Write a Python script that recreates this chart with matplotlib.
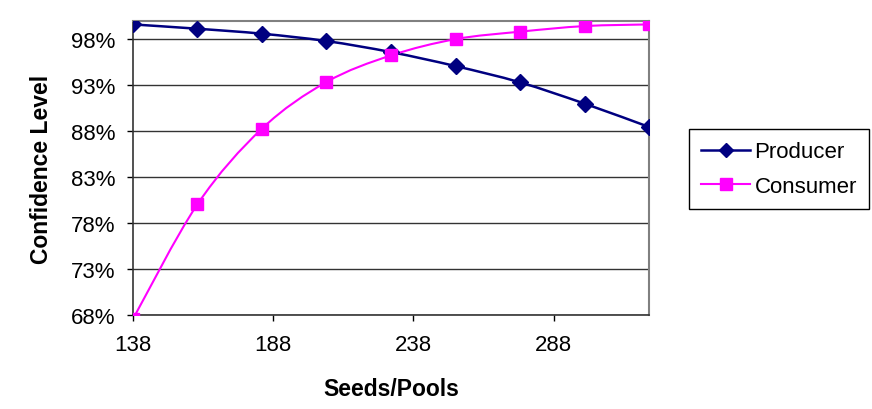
import matplotlib
matplotlib.use("Agg")
import matplotlib.pyplot as plt
from matplotlib.path import Path
from matplotlib.patches import PathPatch
from matplotlib.lines import Line2D
from matplotlib.ticker import FuncFormatter
import numpy as np

plt.rcParams['font.family'] = ['Liberation Sans', 'DejaVu Sans']

seeds = [138, 161, 184, 207, 230, 253, 276, 299, 322]
producer = [99.63, 99.16, 98.62, 97.82, 96.62, 95.10, 93.33, 91.02, 88.48]
consumer = [67.6, 80.08, 88.30, 93.37, 96.26, 98.03, 98.84, 99.45, 99.63]
xticks = [138, 188, 238, 288]
yticks = [68, 73, 78, 83, 88, 93, 98]


def smooth_path(x, y):
    # excel-style smoothed line: bezier segments through the points
    p = np.column_stack([x, y]).astype(float)
    verts = [p[0]]
    codes = [Path.MOVETO]
    n = len(p)
    for i in range(n - 1):
        p0 = p[i - 1] if i > 0 else p[i]
        p3 = p[i + 2] if i + 2 < n else p[i + 1]
        c1 = p[i] + (p[i + 1] - p0) / 6.0
        c2 = p[i + 1] - (p3 - p[i]) / 6.0
        verts += [c1, c2, p[i + 1]]
        codes += [Path.CURVE4] * 3
    return Path(verts, codes)


fig = plt.figure(figsize=(8.72, 4.10), dpi=100)
ax = fig.add_axes([0.1525, 0.2285, 0.5918, 0.7178])

navy = '#000080'
pink = '#FF00FF'

ax.add_patch(PathPatch(smooth_path(seeds, producer), fill=False, ec=navy, lw=1.8, zorder=3))
ax.add_patch(PathPatch(smooth_path(seeds, consumer), fill=False, ec=pink, lw=1.5, zorder=3))
ax.plot(seeds, producer, ls='none', marker='D', ms=8.5, color=navy, zorder=4)
ax.plot(seeds, consumer, ls='none', marker='s', ms=9, color=pink, zorder=4)

ax.set_xlim(138, 322)
ax.set_ylim(68, 100)
ax.set_xticks(xticks)
ax.set_yticks(yticks)
ax.yaxis.set_major_formatter(FuncFormatter(lambda v, p: '%d%%' % v))
ax.tick_params(axis='both', labelsize=16, direction='out', length=4.5, width=1, color='black')
ax.tick_params(axis='y', pad=8)
ax.tick_params(axis='x', pad=9)
ax.grid(axis='y', color='#333333', lw=1)
ax.set_axisbelow(True)

for s in ['top', 'right']:
    ax.spines[s].set_color('#808080')
    ax.spines[s].set_linewidth(1.5)
for s in ['left', 'bottom']:
    ax.spines[s].set_color('#333333')
    ax.spines[s].set_linewidth(1.2)

ax.set_xlabel('Seeds/Pools', fontsize=16.5, fontweight='bold', labelpad=16)
ax.set_ylabel('Confidence Level', fontsize=16.5, fontweight='bold', labelpad=13)

handles = [Line2D([], [], color=navy, lw=1.8, marker='D', ms=7.5),
           Line2D([], [], color=pink, lw=1.5, marker='s', ms=8.5)]
leg = fig.legend(handles, ['Producer', 'Consumer'], loc='center left',
                 bbox_to_anchor=(689 / 872, 1 - 170 / 410), fontsize=16,
                 fancybox=False, edgecolor='black', framealpha=1,
                 handlelength=2.2, handletextpad=0.2, borderpad=0.55, labelspacing=0.6,
                 borderaxespad=0)
leg.get_frame().set_linewidth(1)

fig.savefig('out.png', dpi=100)
